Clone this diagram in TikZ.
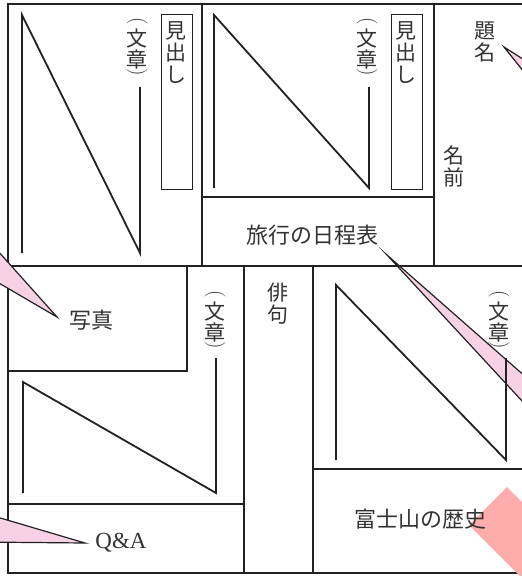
\documentclass[tikz,border=0pt]{standalone}
\usepackage{fontspec}
\usepackage{graphicx}
\newfontfamily\jp{Noto Sans CJK JP}
\newfontfamily\serifqa{Liberation Serif}
\newcommand\vpl{\rotatebox{-90}{\rmfamily\fontsize{21}{21}\selectfont(}}
\newcommand\vpr{\rotatebox{-90}{\rmfamily\fontsize{21}{21}\selectfont)}}
\definecolor{ink}{RGB}{34,34,34}
\definecolor{txt}{RGB}{51,51,51}
\definecolor{calloutpink}{RGB}{248,210,228}
\definecolor{diamondred}{RGB}{255,172,172}
\tikzset{
  frameline/.style={draw=ink, line width=1.3pt},
  thickline/.style={draw=ink, line width=2pt},
  nline/.style={draw=ink, line width=1.8pt, line join=miter},
  headbox/.style={draw=ink, line width=0.9pt},
  callout/.style={fill=calloutpink, draw=ink, line width=1.2pt, line join=miter, miter limit=30},
  vtext/.style={font={\jp\fontsize{21}{22}\selectfont}, align=center, inner sep=0pt, text=txt},
  htext/.style={font={\jp\fontsize{22}{22}\selectfont}, inner sep=0pt, text=txt},
  bunsho/.style={font={\jp\fontsize{21}{21}\selectfont\lineskiplimit=-100pt}, align=center, inner sep=0pt, text=txt},
  latin/.style={font={\serifqa\fontsize{23}{23}\selectfont}, inner sep=0pt, text=txt}
}
\begin{document}
\begin{tikzpicture}[x=1pt,y=-1pt]
\useasboundingbox (0,0) rectangle (522,576);
\clip (0,0) rectangle (522,576);
\fill[white] (0,0) rectangle (522,576);

% long callout from the schedule
\coordinate (tipR) at (387,255);
\filldraw[callout] (tipR) -- (560,442) -- (560,407) -- cycle;

% frame and cells
\draw[frameline] (522,4) -- (8,4) -- (8,573) -- (522,573);
\draw[frameline] (8,266) -- (522,266);
\draw[frameline] (202,4) -- (202,266);
\draw[frameline] (434,4) -- (434,266);
\draw[frameline] (202,197) -- (434,197);
\draw[frameline] (244,266) -- (244,573);
\draw[frameline] (313,266) -- (313,573);
\draw[frameline] (8,504) -- (244,504);
\draw[frameline] (313,469) -- (522,469);
\draw[thickline] (8,371) -- (187,371) -- (187,266);

% heading boxes
\draw[headbox] (161,14) rectangle (192,189);
\draw[headbox] (391,14) rectangle (422,189);

% N shapes
\draw[nline] (22,253) -- (22,15) -- (140,253) -- (140,87);
\draw[nline] (214,188) -- (214,15) -- (369,188) -- (369,87);
\draw[nline] (23,493) -- (23,382) -- (216,493) -- (216,358);
\draw[nline] (336,460) -- (336,285) -- (506,460) -- (506,358);

% diamond
\fill[diamondred] (507,487) -- (607,587) -- (569,625) -- (469,525) -- cycle;

% callouts
\coordinate (tipA) at (57,317);
\coordinate (tipB) at (85,543);
\coordinate (tipC) at (504,47);
\filldraw[callout] (tipA) -- (-20,231) -- (-20,272) -- cycle;
\filldraw[callout] (tipB) -- (-20,512) -- (-20,542) -- cycle;
\filldraw[callout] (tipC) -- (540,70) -- (540,92) -- cycle;

% texts
\node[vtext] (mid1) at (176,52.5) {見\\出\\し};
\node[vtext] (mid2) at (406,52.5) {見\\出\\し};
\node[bunsho] (bun1) at (137,47) {\vpl\\[8pt]文\\章\\[-20pt]\vpr};
\node[bunsho] (bun2) at (367,47) {\vpl\\[8pt]文\\章\\[-20pt]\vpr};
\node[bunsho] (bun3) at (215,320) {\vpl\\[8pt]文\\章\\[-20pt]\vpr};
\node[bunsho] (bun4) at (499,320) {\vpl\\[8pt]文\\章\\[-20pt]\vpr};
\node[vtext] (daimei) at (485,42) {題\\名};
\node[vtext] (namae) at (454,166) {名\\前};
\node[vtext] (haiku) at (278,304) {俳\\句};
\node[htext] (ryoko) at (312,235) {旅行の日程表};
\node[htext] (shashin) at (91,320) {写真};
\node[htext] (fuji) at (420,519) {富士山の歴史};
\node[latin] (qa) at (121,543) {Q\&A};
\end{tikzpicture}
\end{document}
